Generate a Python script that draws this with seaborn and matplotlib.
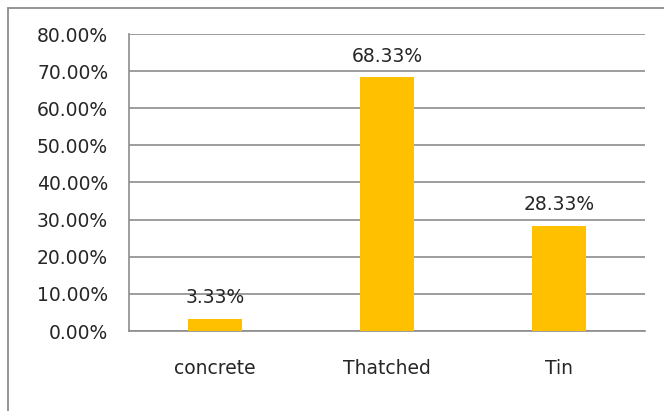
import matplotlib
matplotlib.use("Agg")
import matplotlib.pyplot as plt
import matplotlib.patches as patches
from matplotlib.ticker import PercentFormatter
import seaborn as sns
import pandas as pd

categories = ["concrete", "Thatched", "Tin"]
values = [0.0333, 0.6833, 0.2833]
value_labels = ["3.33%", "68.33%", "28.33%"]
yticks = [0.0, 0.1, 0.2, 0.3, 0.4, 0.5, 0.6, 0.7, 0.8]

sns.set_theme(style="white")
plt.rcParams['font.family'] = ['DejaVu Sans']

W, H = 664, 411
fig = plt.figure(figsize=(W / 100, H / 100), dpi=100)
ax = fig.add_axes([129 / W, 1 - 331 / H, (645 - 129) / W, (331 - 34) / H])

df = pd.DataFrame({"cat": categories, "val": values})
sns.barplot(data=df, x="cat", y="val", color="#FFC000", width=0.31,
            saturation=1, linewidth=0, ax=ax, zorder=3)

ax.set_ylim(0, 0.8)
ax.set_yticks(yticks)
ax.yaxis.set_major_formatter(PercentFormatter(1.0, decimals=2))
ax.set_xlabel("")
ax.set_ylabel("")
grid_c = "#8c8c8c"
ax.grid(axis="y", color=grid_c, linewidth=1.2, zorder=0)
ax.set_axisbelow(True)
for s in ["top", "right"]:
    ax.spines[s].set_visible(False)
for s in ["left", "bottom"]:
    ax.spines[s].set_color(grid_c)
    ax.spines[s].set_linewidth(1.2)

ax.tick_params(axis="y", length=0, pad=15, labelsize=13.5, labelcolor="#262626")
ax.tick_params(axis="x", length=0, pad=20, labelsize=13.5, labelcolor="#262626")

ax.bar_label(ax.containers[0], labels=value_labels, padding=8.3,
             fontsize=13.5, color="#262626")

rect = patches.Rectangle((8 / W, -0.1), 1.2, 1 - 8 / H + 0.1,
                         transform=fig.transFigure, fill=False,
                         edgecolor="#8c8c8c", linewidth=1.3, clip_on=False)
fig.patches.append(rect)

fig.savefig("out.png", dpi=100)
